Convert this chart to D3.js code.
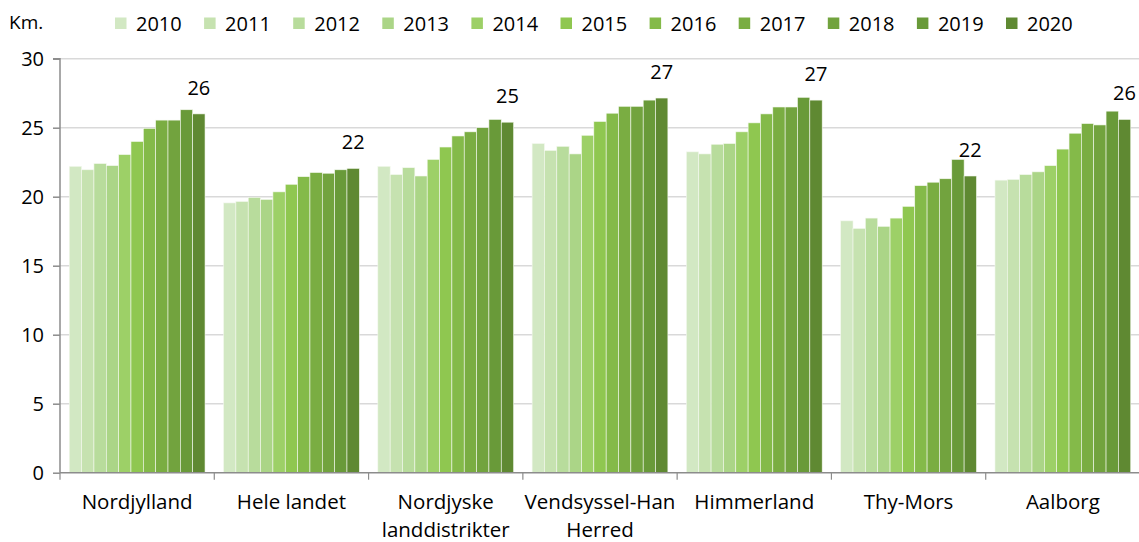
<!DOCTYPE html>
<html><head><meta charset="utf-8">
<script src="https://cdn.jsdelivr.net/npm/d3@7"></script>
<style>
body{margin:0;background:#fff;}
svg{display:block;font-family:"Open Sans",sans-serif;}
</style></head>
<body><svg id="c" width="1139" height="542"></svg>
<script>
const categories = [["Nordjylland"],["Hele landet"],["Nordjyske","landdistrikter"],["Vendsyssel-Han","Herred"],["Himmerland"],["Thy-Mors"],["Aalborg"]];
const years = ["2010","2011","2012","2013","2014","2015","2016","2017","2018","2019","2020"];
const nordjylland = [22.2,21.95,22.4,22.25,23.05,24.0,24.95,25.55,25.55,26.3,26.0];
const heleLandet = [19.55,19.65,19.95,19.8,20.35,20.9,21.45,21.75,21.7,21.95,22.05];
const nordjyskeLand = [22.2,21.6,22.1,21.5,22.7,23.6,24.4,24.7,25.0,25.6,25.4];
const vendsyssel = [23.85,23.35,23.65,23.1,24.45,25.45,26.05,26.55,26.55,27.0,27.15];
const himmerland = [23.25,23.1,23.8,23.85,24.7,25.35,26.0,26.5,26.5,27.2,27.0];
const thyMors = [18.25,17.7,18.45,17.85,18.45,19.3,20.8,21.05,21.3,22.7,21.5];
const aalborg = [21.2,21.25,21.6,21.8,22.25,23.45,24.6,25.3,25.2,26.2,25.6];
const seriesByCategory = [nordjylland, heleLandet, nordjyskeLand, vendsyssel, himmerland, thyMors, aalborg];
const yTicks = [0,5,10,15,20,25,30];
const colors = ["#d2e8c3","#c6e2b0","#b8dc9c","#abd587","#9dd067","#8fc750","#84ba49","#7aad42","#72a33e","#699a39","#5f8932"];
const yLabel = "Km.";

const svg = d3.select("#c");
const mLeft = 60, mRight = 1140, mTop = 58.7, mBottom = 472.7;
const x0 = d3.scaleBand().domain(categories.map((d,i)=>i)).range([mLeft,mRight]).padding(0);
const pad = x0.step()*0.06;
const x1 = d3.scaleBand().domain(years).range([pad, x0.bandwidth()-pad]).padding(0);
const y = d3.scaleLinear().domain([0,30]).range([mBottom, mTop]);

// gridlines
svg.append("g").selectAll("line").data(yTicks.filter(t=>t>0)).join("line")
  .attr("x1",mLeft).attr("x2",1139).attr("y1",d=>y(d)).attr("y2",d=>y(d))
  .attr("stroke","#d9d9d9").attr("stroke-width",1.5);

// bars
const groups = svg.append("g").selectAll("g").data(seriesByCategory).join("g")
  .attr("transform",(d,i)=>`translate(${x0(i)},0)`);
groups.selectAll("rect").data(d=>d.map((v,j)=>({v,j}))).join("rect")
  .attr("x",d=>x1(years[d.j])).attr("width",x1.bandwidth())
  .attr("y",d=>y(d.v)).attr("height",d=>y(0)-y(d.v))
  .attr("fill",d=>colors[d.j]).attr("stroke","#f4f8ef").attr("stroke-width",0.6);

// value labels (2020)
groups.append("text")
  .attr("x",x1(years[10])+x1.bandwidth()/2)
  .attr("y",d=>y(d[10])-19)
  .attr("text-anchor","middle").attr("font-size",20).attr("fill","#000")
  .text(d=>d3.format(".0f")(d[10]));

// y axis
const yAxis = d3.axisLeft(y).tickValues(yTicks).tickSize(7).tickPadding(9);
const ya = svg.append("g").attr("transform",`translate(${mLeft},0)`).call(yAxis);
ya.select(".domain").attr("stroke","#8c8c8c").attr("stroke-width",1.5).attr("d",`M-7,${y(30)}H0V${y(0)}`);
ya.selectAll(".tick line").attr("stroke","#8c8c8c").attr("stroke-width",1.5);
ya.selectAll(".tick text").attr("font-size",20).attr("fill","#000").attr("font-family","'Open Sans'");

// x axis
const xa = svg.append("g").attr("transform",`translate(0,${mBottom})`);
xa.append("line").attr("x1",mLeft).attr("x2",1139).attr("y1",0).attr("y2",0).attr("stroke","#8c8c8c").attr("stroke-width",1.5);
xa.selectAll("line.t").data(categories.map((d,i)=>i)).join("line").attr("class","t")
  .attr("x1",d=>x0(d)).attr("x2",d=>x0(d)).attr("y1",0).attr("y2",7)
  .attr("stroke","#8c8c8c").attr("stroke-width",1.2);
xa.selectAll("text").data(categories).join("text")
  .attr("x",(d,i)=>x0(i)+x0.bandwidth()/2).attr("y",36)
  .attr("text-anchor","middle").attr("font-size",20.5).attr("fill","#000")
  .selectAll("tspan").data(d=>d).join("tspan")
  .attr("x",function(){return d3.select(this.parentNode).attr("x");})
  .attr("dy",(d,i)=>i?28:0).text(d=>d);

// y label
svg.append("text").attr("x",9).attr("y",29).attr("font-size",19).attr("fill","#000").text(yLabel);

// legend
const lg = svg.append("g").selectAll("g").data(years).join("g")
  .attr("transform",(d,i)=>`translate(${115+i*89.1},0)`);
lg.append("rect").attr("x",0).attr("y",17.5).attr("width",11.5).attr("height",11.5).attr("fill",(d,i)=>colors[i]);
lg.append("text").attr("x",21).attr("y",31).attr("font-size",20).attr("fill","#000").text(d=>d);
</script></body></html>
